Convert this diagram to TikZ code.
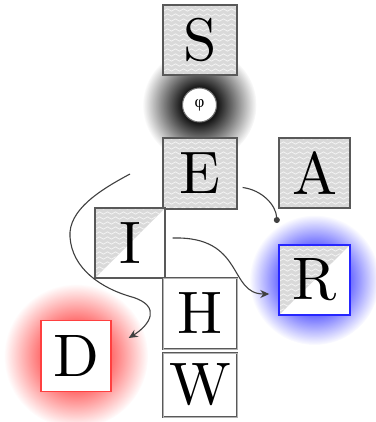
\documentclass[tikz,border=0pt]{standalone}
\usepackage{fontspec}
\setmainfont{Latin Modern Roman}
\newfontfamily\bigfont{lmroman10-regular.otf}
\newfontfamily\greekfont{Liberation Serif}
\usetikzlibrary{arrows.meta,decorations.pathmorphing,calc,fadings}

\pgfdeclareradialshading{myglowshade}{\pgfpointorigin}{color(0bp)=(white); color(8bp)=(white); color(25bp)=(black); color(50bp)=(black)}
\pgfdeclarefading{myglow}{\pgfuseshading{myglowshade}}

\newcommand\drawmywaves{%
  \fill[black!15] (path picture bounding box.south west) rectangle (path picture bounding box.north east);
  \foreach \k in {0,...,15}{
    \draw[black!4, line width=0.7pt, decorate, decoration={snake, amplitude=1.2pt, segment length=8pt}]
      ($(path picture bounding box.north west)+(-6pt,-\k*5pt)$) -- ($(path picture bounding box.north east)+(6pt,-\k*5pt)$);
  }}

\tikzset{
  box/.style={draw=black!65, line width=1.3pt, minimum width=72pt, minimum height=70pt, inner sep=0pt,
    font=\bigfont\fontsize{60}{60}\selectfont},
  wave/.style={path picture={\drawmywaves}},
  halfwave/.style={fill=white, path picture={
      \clip (path picture bounding box.north west) -- (path picture bounding box.north east)
        -- (path picture bounding box.south west) -- cycle;
      \drawmywaves}},
  dbl/.style={fill=white, draw=black!65, line width=0.8pt, double=black!30, double distance=1pt},
  conn/.style={draw=black!75, line width=1.1pt},
  glow/.style={path fading=myglow}
}

\begin{document}
\begin{tikzpicture}[x=1pt,y=-1pt]
\useasboundingbox (0,0) rectangle (375,422);
\fill[white] (0,0) rectangle (375,422);

% glows
\fill[black!90, glow] (199.5,105) circle (57);
\fill[red!75, glow] (76,356) circle (72);
\fill[blue!85, glow] (314.5,280) circle (65);

% boxes
\node[box, wave, minimum width=74pt] (S) at (200,40) {S};
\node[circle, draw=black!55, fill=white, line width=1pt, minimum size=34pt, inner sep=0pt,
  font=\greekfont\fontsize{17}{17}\selectfont] (phi) at (199.5,105) {φ};
\node[box, wave, minimum width=74pt, minimum height=71pt] (E) at (200,173.5) {E};
\node[box, wave, minimum width=71pt] (A) at (314.5,173) {A};
\node[box, halfwave, minimum width=70pt] (I) at (130,243) {I};
\node[box, halfwave, minimum width=71pt, draw=blue!85, line width=1.4pt] (R) at (314.5,280) {R};
\node[box, dbl, minimum width=74pt, minimum height=71pt] (H) at (200,313.5) {H};
\node[box, dbl, minimum width=74pt, minimum height=64pt] (W) at (200,385) {W};
\node[box, fill=white, draw=red!75, line width=1.4pt, minimum width=70pt, minimum height=71pt] (D) at (76,356) {D};

% connectors
\coordinate (e1) at ($(E.east)+(5,14)$);
\coordinate (e2) at (277,223);
\draw[conn, -{Circle[length=6pt]}] (e1) .. controls (262,190) and (276,205) .. (e2);

\coordinate (i1) at ($(I.east)+(7,-5)$);
\coordinate (r1) at ($(R.west)+(-9,14)$);
\draw[conn, -{Stealth[length=9pt,width=8pt]}] (i1) .. controls (245,236) and (228,294) .. (r1);

\coordinate (s1) at (130,174);
\coordinate (d1) at ($(D.east)+(17,-18)$);
\draw[conn, -{Stealth[length=9pt,width=8pt]}] (s1) .. controls (100,190) and (68,210) .. (70,237)
  .. controls (72,268) and (100,288) .. (132,297)
  .. controls (162,306) and (150,325) .. (d1);
\end{tikzpicture}
\end{document}
